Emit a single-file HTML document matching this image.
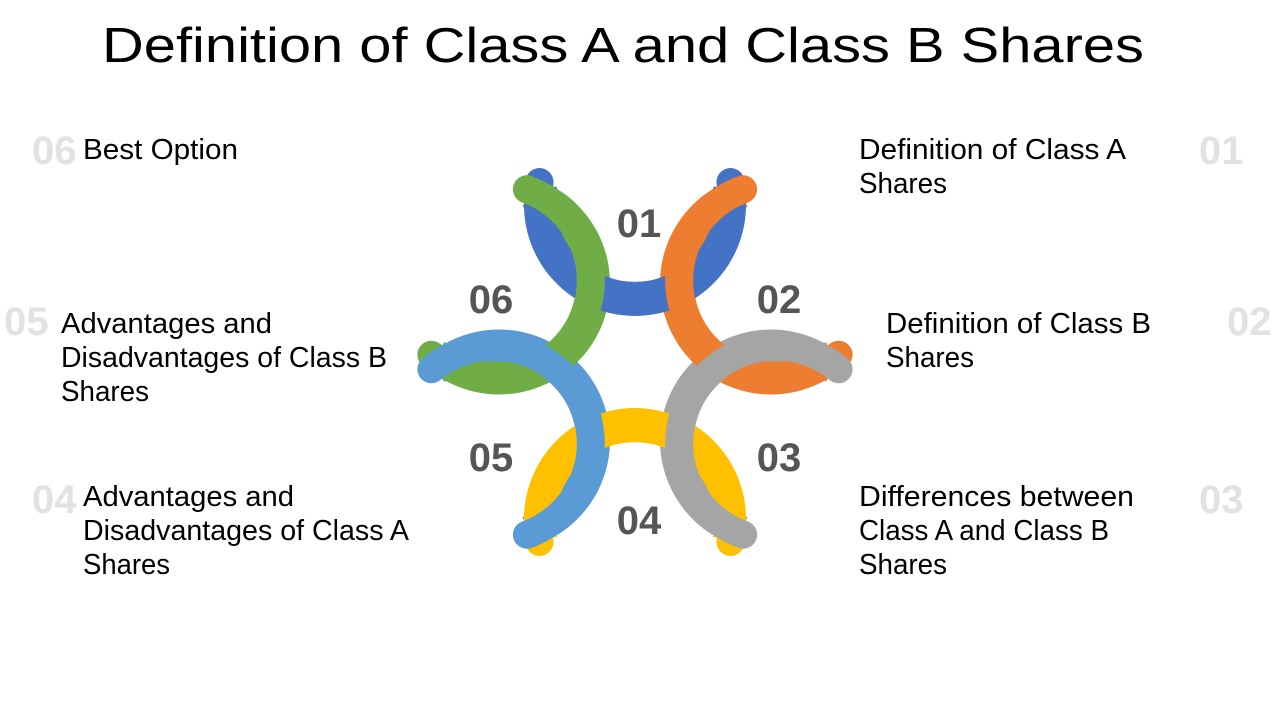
<!DOCTYPE html>
<html><head><meta charset="utf-8"><style>
html,body{margin:0;padding:0;background:#fff;}
svg{display:block;}
text{font-family:"Liberation Sans",sans-serif;}
.l{font-size:29px;fill:#000;}
.g{font-size:40px;font-weight:bold;fill:#e2e2e2;}
.n{font-size:40px;font-weight:bold;fill:#555;}
</style></head><body>
<svg width="1280" height="720" viewBox="0 0 1280 720" xmlns="http://www.w3.org/2000/svg">
<text x="102" y="62" font-size="49" textLength="1042" lengthAdjust="spacingAndGlyphs">Definition of Class A and Class B Shares</text>
<defs>
<path id="f" d="M-109,-178 A111,111 0 1 0 109,-178 L78,-175 A79.5,79.5 0 1 1 -78,-175 Z"/>
<path id="s" d="M-95.5,-180 A97,97 0 1 0 95.5,-180" fill="none" stroke-width="28" stroke-linecap="round"/>
</defs>
<g transform="translate(635,362)">
<use href="#f" fill="#a5a5a5" transform="rotate(120)"/>
<use href="#f" fill="#5b9bd5" transform="rotate(240)"/>
<use href="#f" fill="#ed7d31" transform="rotate(60)"/>
<use href="#f" fill="#70ad47" transform="rotate(300)"/>
<use href="#f" fill="#4472c4"/>
<use href="#f" fill="#ffc000" transform="rotate(180)"/>
<use href="#s" stroke="#4472c4"/>
<use href="#s" stroke="#ffc000" transform="rotate(180)"/>
<use href="#s" stroke="#ed7d31" transform="rotate(60)"/>
<use href="#s" stroke="#70ad47" transform="rotate(300)"/>
<use href="#s" stroke="#a5a5a5" transform="rotate(120)"/>
<use href="#s" stroke="#5b9bd5" transform="rotate(240)"/>
</g>
<text class="n" x="639" y="237" text-anchor="middle">01</text>
<text class="n" x="779" y="313" text-anchor="middle">02</text>
<text class="n" x="779" y="471" text-anchor="middle">03</text>
<text class="n" x="639" y="534" text-anchor="middle">04</text>
<text class="n" x="491" y="471" text-anchor="middle">05</text>
<text class="n" x="491" y="313" text-anchor="middle">06</text>

<text class="g" x="32" y="164">06</text>
<text class="l" x="83" y="159" textLength="155" lengthAdjust="spacingAndGlyphs">Best Option</text>
<text class="g" x="4" y="335">05</text>
<text class="l" x="61" y="333" textLength="211" lengthAdjust="spacingAndGlyphs">Advantages and</text>
<text class="l" x="61" y="367" textLength="326" lengthAdjust="spacingAndGlyphs">Disadvantages of Class B</text>
<text class="l" x="61" y="401" textLength="88" lengthAdjust="spacingAndGlyphs">Shares</text>
<text class="g" x="32" y="513">04</text>
<text class="l" x="83" y="506" textLength="211" lengthAdjust="spacingAndGlyphs">Advantages and</text>
<text class="l" x="83" y="540" textLength="326" lengthAdjust="spacingAndGlyphs">Disadvantages of Class A</text>
<text class="l" x="83" y="574" textLength="87" lengthAdjust="spacingAndGlyphs">Shares</text>

<text class="l" x="859" y="159" textLength="267" lengthAdjust="spacingAndGlyphs">Definition of Class A</text>
<text class="l" x="859" y="193" textLength="88" lengthAdjust="spacingAndGlyphs">Shares</text>
<text class="g" x="1199" y="164">01</text>
<text class="l" x="886" y="333" textLength="265" lengthAdjust="spacingAndGlyphs">Definition of Class B</text>
<text class="l" x="886" y="367" textLength="88" lengthAdjust="spacingAndGlyphs">Shares</text>
<text class="g" x="1227" y="335">02</text>
<text class="l" x="859" y="506" textLength="275" lengthAdjust="spacingAndGlyphs">Differences between</text>
<text class="l" x="859" y="540" textLength="250" lengthAdjust="spacingAndGlyphs">Class A and Class B</text>
<text class="l" x="859" y="574" textLength="88" lengthAdjust="spacingAndGlyphs">Shares</text>
<text class="g" x="1199" y="513">03</text>
</svg>
</body></html>
